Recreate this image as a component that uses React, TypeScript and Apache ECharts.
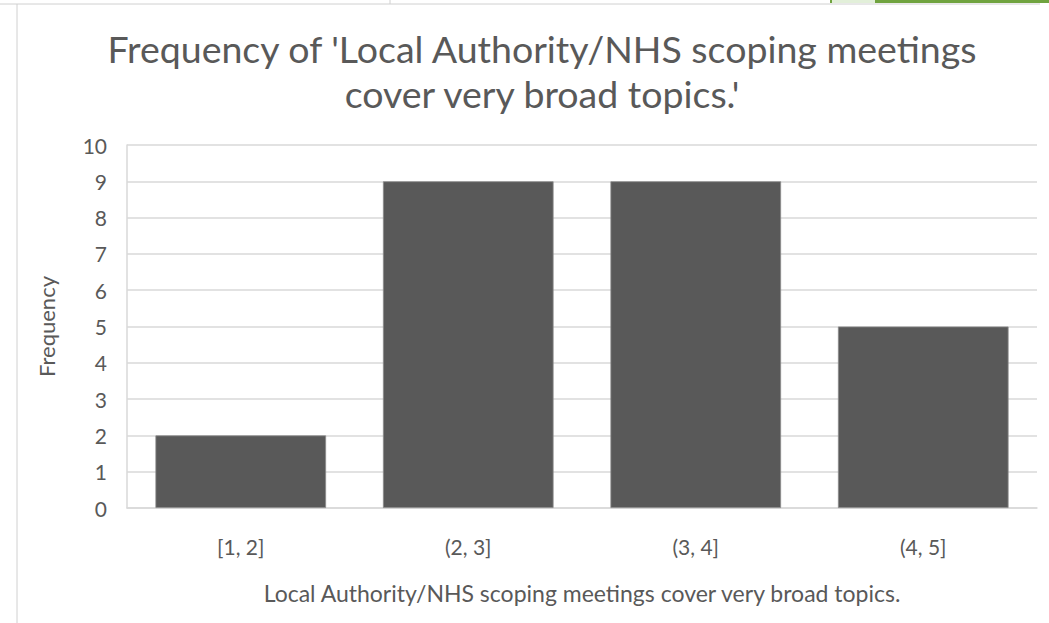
import React, { useEffect, useRef } from "react";
import * as echarts from "echarts";

const titleLines = ["Frequency of 'Local Authority/NHS scoping meetings", "cover very broad topics.'"];
const categories = ["[1, 2]", "(2, 3]", "(3, 4]", "(4, 5]"];
const frequencies = [2, 9, 9, 5];
const yAxisTitle = "Frequency";
const xAxisTitle = "Local Authority/NHS scoping meetings cover very broad topics.";

const FONT = "Lato, 'Open Sans', sans-serif";
const TEXT = "#595959";

export default function App() {
  const ref = useRef<HTMLDivElement>(null);
  useEffect(() => {
    if (!ref.current) return;
    const chart = echarts.init(ref.current, null, { renderer: "svg" });
    chart.setOption({
      animation: false,
      backgroundColor: "#ffffff",
      title: {
        text: titleLines.join("\n"),
        left: 542,
        textAlign: "center",
        top: 26,
        padding: 0,
        textStyle: {
          fontFamily: FONT,
          fontSize: 37.5,
          fontWeight: "normal",
          color: TEXT,
          lineHeight: 45,
        },
      },
      graphic: [
        { type: "line", shape: { x1: 0, y1: 4, x2: 1040, y2: 4 }, style: { stroke: "#d0d0d0", lineWidth: 1 } },
        { type: "line", shape: { x1: 390, y1: 0, x2: 390, y2: 4 }, style: { stroke: "#d0d0d0", lineWidth: 1 } },
        { type: "line", shape: { x1: 17, y1: 4, x2: 17, y2: 623 }, style: { stroke: "#d0d0d0", lineWidth: 1 } },
        { type: "rect", shape: { x: 830, y: 0, width: 219, height: 3 }, style: { fill: "#70a33f" } },
        { type: "rect", shape: { x: 832, y: 0, width: 43, height: 3 }, style: { fill: "#e2efd9" } },
      ],
      grid: { left: 127, right: 12, top: 145, bottom: 115 },
      xAxis: {
        type: "category",
        data: categories,
        name: xAxisTitle,
        nameLocation: "middle",
        nameGap: 73,
        nameTextStyle: { fontFamily: FONT, fontSize: 23, color: TEXT },
        axisLine: { show: true, lineStyle: { color: "#d9d9d9", width: 1.5 } },
        axisTick: { show: false },
        axisLabel: { fontFamily: FONT, fontSize: 21, color: TEXT, margin: 28 },
      },
      yAxis: {
        type: "value",
        min: 0,
        max: 10,
        interval: 1,
        name: yAxisTitle,
        nameLocation: "middle",
        nameGap: 70,
        nameTextStyle: { fontFamily: FONT, fontSize: 22, color: TEXT },
        axisLine: { show: true, lineStyle: { color: "#d9d9d9", width: 1.5 } },
        axisTick: { show: false },
        axisLabel: { fontFamily: FONT, fontSize: 21, color: TEXT, margin: 20 },
        splitLine: { show: true, lineStyle: { color: "#d9d9d9", width: 1.5 } },
      },
      series: [
        {
          type: "bar",
          data: frequencies,
          barCategoryGap: "25%",
          itemStyle: { color: "#595959", borderColor: "#8c8c8c", borderWidth: 0.8 },
        },
      ],
    });
    return () => chart.dispose();
  }, []);
  return (
    <div
      ref={ref}
      style={{ position: "fixed", left: 0, top: 0, width: 1049, height: 623 }}
    />
  );
}
